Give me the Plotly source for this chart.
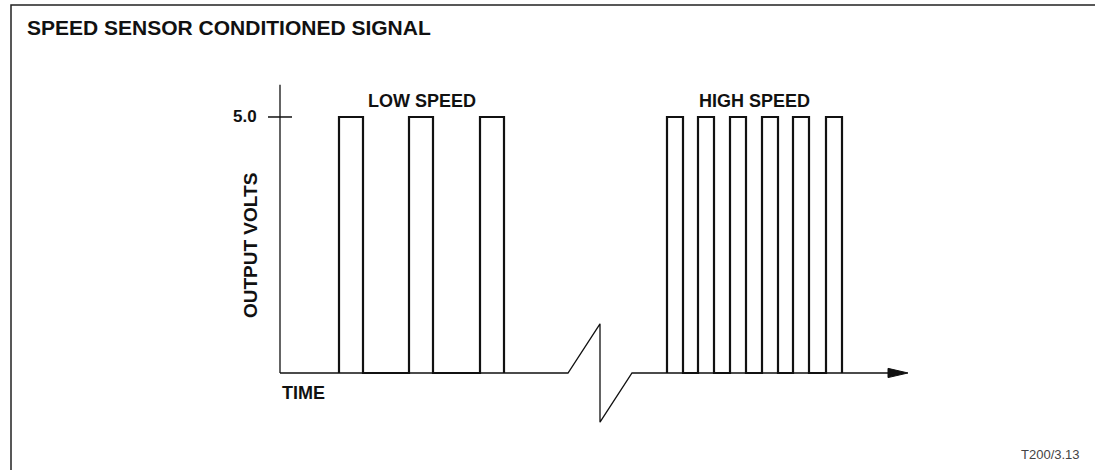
import plotly.graph_objects as go

# ---- data (time in arbitrary units, signal in volts) ----
v_high = 5.0
low_rise = [5.9, 12.9, 20.0]          # low speed pulse rising edges
low_width = 2.4
high_rise = [38.7, 41.8, 45.0, 48.2, 51.3, 54.6]   # high speed pulse rising edges
high_width = 1.6

axis_end = 62.8          # end of time axis (arrow tip)
y_axis_top = 5.63
break_start = 28.8       # where the time axis is broken
break_end = 35.2
break_height = 0.96

tick_vals = [5.0]
tick_text = ["5.0"]

FONT = "Liberation Sans, Arial, sans-serif"
BLACK = "#111111"
W, H = 1095, 470
X_RANGE = [-28.0, -28.0 + W / 10]
Y_RANGE = [-1.895, 7.285]


def pulse_train(rises, width, level):
    xs, ys = [], []
    for r in rises:
        xs += [r, r, r + width, r + width]
        ys += [0, level, level, 0]
    return xs, ys


fig = go.Figure()

# frame round the figure, only left and top edges in view
frame_x = X_RANGE[0] + 11 / 10
frame_y = Y_RANGE[1] - 5 * (Y_RANGE[1] - Y_RANGE[0]) / H
fig.add_trace(go.Scatter(
    x=[frame_x, frame_x, X_RANGE[1] + 5],
    y=[Y_RANGE[0] - 1, frame_y, frame_y],
    mode="lines", line=dict(color="#222222", width=1.5), hoverinfo="skip"))

# time axis with the break (zig-zag)
mid = (break_start + break_end) / 2
fig.add_trace(go.Scatter(
    x=[0, break_start, mid, mid, break_end, axis_end - 1.9],
    y=[0, 0, break_height, -break_height, 0, 0],
    mode="lines", line=dict(color=BLACK, width=1.3), hoverinfo="skip"))

# arrow head
fig.add_trace(go.Scatter(
    x=[axis_end - 2.0, axis_end, axis_end - 2.0, axis_end - 2.0],
    y=[0.09, 0, -0.09, 0.09],
    mode="lines", fill="toself", fillcolor=BLACK,
    line=dict(color=BLACK, width=1), hoverinfo="skip"))

# voltage axis
fig.add_trace(go.Scatter(
    x=[0, 0], y=[0, y_axis_top],
    mode="lines", line=dict(color=BLACK, width=1.3), hoverinfo="skip"))

# tick at 5.0
for tv in tick_vals:
    fig.add_trace(go.Scatter(
        x=[-1.2, 1.2], y=[tv, tv],
        mode="lines", line=dict(color=BLACK, width=1.5), hoverinfo="skip"))

# signals
for rises, w in [(low_rise, low_width), (high_rise, high_width)]:
    xs, ys = pulse_train(rises, w, v_high)
    fig.add_trace(go.Scatter(
        x=xs, y=ys, mode="lines",
        line=dict(color=BLACK, width=2.2), hoverinfo="skip"))

annos = [
    dict(x=-2.1, y=tick_vals[0], text="<b>" + tick_text[0] + "</b>", xanchor="right",
         yanchor="middle", font=dict(size=17)),
    dict(x=low_rise[0] + (low_rise[-1] + low_width - low_rise[0]) / 2, y=5.31,
         text="<b>LOW SPEED</b>", xanchor="center", yanchor="middle", font=dict(size=18)),
    dict(x=high_rise[0] + (high_rise[-1] + high_width - high_rise[0]) / 2, y=5.31,
         text="<b>HIGH SPEED</b>", xanchor="center", yanchor="middle", font=dict(size=18)),
    dict(x=-3.0, y=2.48, text="<b>OUTPUT VOLTS</b>", textangle=-90,
         xanchor="center", yanchor="middle", font=dict(size=19)),
    dict(x=0, y=-0.40, text="<b>TIME</b>", xanchor="left", yanchor="middle",
         font=dict(size=18)),
    dict(x=X_RANGE[0] + 108.2, y=-1.6, text="T200/3.13", xanchor="right",
         yanchor="middle", font=dict(size=13, color="#444444")),
    dict(x=X_RANGE[0] + 2.5, y=6.74, text="<b>SPEED SENSOR CONDITIONED SIGNAL</b>",
         xanchor="left", yanchor="middle", font=dict(size=21)),
]
for a in annos:
    a.update(showarrow=False, xref="x", yref="y")
    a["font"].setdefault("color", BLACK)
    a["font"].update(family=FONT)
    fig.add_annotation(**a)

fig.update_layout(
    width=W, height=H,
    margin=dict(l=0, r=0, t=0, b=0),
    paper_bgcolor="white", plot_bgcolor="white",
    showlegend=False,
    xaxis=dict(visible=False, range=X_RANGE, fixedrange=True),
    yaxis=dict(visible=False, range=Y_RANGE, fixedrange=True),
)

# drop the page's default body margin and any scrollbars
fig.write_html("out.html", config={"displayModeBar": False, "staticPlot": True},
               post_script="document.body.style.margin='0';"
                           "document.body.style.overflow='hidden';"
                           "document.documentElement.style.overflow='hidden';")
